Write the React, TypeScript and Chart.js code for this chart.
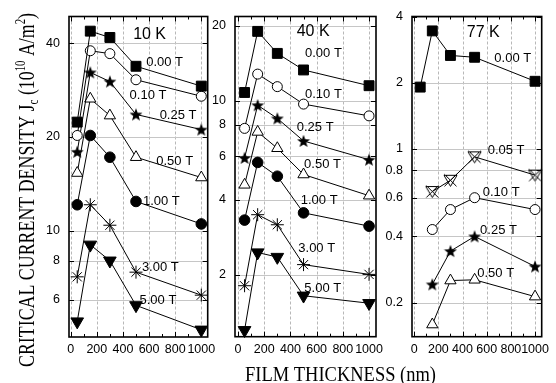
import React, { useEffect, useRef } from 'react';
import { Chart, registerables } from 'chart.js';

Chart.register(...registerables);

// ---------------- data ----------------
const thicknessNm = [50, 150, 300, 500, 1000];
const thicknessNm77K = [150, 300, 500, 1000];
const xTickValues = [0, 200, 400, 600, 800, 1000];

// 10 K
const jc10K_000T = [22.3, 43.7, 41.7, 33.7, 29.1];
const jc10K_010T = [20.2, 37.8, 37.0, 30.5, 27.0];
const jc10K_025T = [17.9, 32.2, 30.1, 23.6, 21.1];
const jc10K_050T = [15.3, 26.5, 23.4, 17.2, 14.8];
const jc10K_100T = [12.1, 20.2, 17.2, 12.4, 10.5];
const jc10K_300T = [7.1, 12.1, 10.4, 7.35, 6.2];
const jc10K_500T = [5.1, 9.0, 8.0, 5.75, 4.8];
const yTicks10K = [6, 8, 10, 20, 40];

// 40 K
const jc40K_000T = [10.8, 19.0, 15.5, 13.3, 11.5];
const jc40K_010T = [7.75, 12.8, 11.4, 9.7, 8.7];
const jc40K_025T = [5.9, 9.6, 8.5, 6.9, 5.8];
const jc40K_050T = [4.6, 7.5, 6.45, 5.06, 4.16];
const jc40K_100T = [3.32, 5.66, 4.98, 3.55, 3.14];
const jc40K_300T = [1.81, 3.49, 3.18, 2.2, 2.01];
const jc40K_500T = [1.2, 2.46, 2.36, 1.65, 1.54];
const yTicks40K = [2, 4, 6, 8, 10, 20];

// 77 K
const jc77K_000T = [1.91, 3.44, 2.66, 2.61, 2.03];
const jc77K_005T = [0.64, 0.72, 0.92, 0.76];
const jc77K_010T = [0.43, 0.53, 0.6, 0.53];
const jc77K_025T = [0.242, 0.343, 0.4, 0.292];
const jc77K_050T = [0.159, 0.252, 0.254, 0.213];
const yTicks77K = [0.2, 0.4, 0.6, 0.8, 1, 2, 4];

const fieldNames = ['0.00 T', '0.05 T', '0.10 T', '0.25 T', '0.50 T', '1.00 T', '3.00 T', '5.00 T'];

// ---------------- styling helpers ----------------
const SANS = '"Liberation Sans", Arial, sans-serif';
const SERIF = '"Liberation Serif", "Times New Roman", serif';

function makeStar(): HTMLCanvasElement {
  const c = document.createElement('canvas');
  c.width = 14; c.height = 14;
  const ctx = c.getContext('2d')!;
  const cx = 7, cy = 7.6, R = 6.8, r = 2.8;
  ctx.beginPath();
  for (let i = 0; i < 10; i++) {
    const a = -Math.PI / 2 + (i * Math.PI) / 5;
    const rad = i % 2 === 0 ? R : r;
    ctx.lineTo(cx + rad * Math.cos(a), cy + rad * Math.sin(a));
  }
  ctx.closePath();
  ctx.fillStyle = '#000';
  ctx.fill();
  return c;
}

function makeXTri(): HTMLCanvasElement {
  const c = document.createElement('canvas');
  c.width = 15; c.height = 15;
  const ctx = c.getContext('2d')!;
  ctx.strokeStyle = '#000';
  ctx.lineWidth = 1;
  ctx.beginPath();
  ctx.moveTo(1, 2.5); ctx.lineTo(14, 2.5); ctx.lineTo(7.5, 13.5); ctx.closePath();
  ctx.stroke();
  ctx.beginPath();
  ctx.moveTo(1.5, 1.5); ctx.lineTo(13.5, 13.5);
  ctx.moveTo(13.5, 1.5); ctx.lineTo(1.5, 13.5);
  ctx.stroke();
  return c;
}

function markerProps(m: string, imgs: any): any {
  const base = { pointBorderColor: '#000', pointBorderWidth: 1 };
  switch (m) {
    case 'sq': return { ...base, pointStyle: 'rect', pointRadius: 7, pointBackgroundColor: '#000' };
    case 'co': return { ...base, pointStyle: 'circle', pointRadius: 5, pointBackgroundColor: '#fff' };
    case 'star': return { ...base, pointStyle: imgs.star, pointRadius: 7 };
    case 'to': return { ...base, pointStyle: 'triangle', pointRadius: 6.5, pointBackgroundColor: '#fff' };
    case 'cf': return { ...base, pointStyle: 'circle', pointRadius: 5.3, pointBackgroundColor: '#000' };
    case 'ast': return { ...base, pointStyle: 'star', pointRadius: 6.5, pointBackgroundColor: '#000' };
    case 'td': return { ...base, pointStyle: 'triangle', pointRotation: 180, pointRadius: 7.3, pointBackgroundColor: '#000' };
    case 'xt': return { ...base, pointStyle: imgs.xtri, pointRadius: 7 };
  }
  return base;
}

type Series = { name: string; marker: string; xs: number[]; ys: number[] };
type Note = { text: string; x: number; y: number; size: number };
type PanelDef = {
  series: Series[];
  notes: Note[];
  yTicks: number[];
  yMin: number; yMax: number; xMin: number; xMax: number;
  area: { left: number; top: number; right: number; bottom: number };
  yTitle?: boolean; xTitle?: boolean;
};

const panels: PanelDef[] = [
  {
    series: [
      { name: fieldNames[0], marker: 'sq', xs: thicknessNm, ys: jc10K_000T },
      { name: fieldNames[2], marker: 'co', xs: thicknessNm, ys: jc10K_010T },
      { name: fieldNames[3], marker: 'star', xs: thicknessNm, ys: jc10K_025T },
      { name: fieldNames[4], marker: 'to', xs: thicknessNm, ys: jc10K_050T },
      { name: fieldNames[5], marker: 'cf', xs: thicknessNm, ys: jc10K_100T },
      { name: fieldNames[6], marker: 'ast', xs: thicknessNm, ys: jc10K_300T },
      { name: fieldNames[7], marker: 'td', xs: thicknessNm, ys: jc10K_500T },
    ],
    notes: [
      { text: '10 K', x: 478, y: 42.5, size: 16 },
      { text: fieldNames[0], x: 578, y: 34.7, size: 13 },
      { text: fieldNames[2], x: 451, y: 27.1, size: 13 },
      { text: fieldNames[3], x: 681, y: 23.5, size: 13 },
      { text: fieldNames[4], x: 655, y: 16.7, size: 13 },
      { text: fieldNames[5], x: 553, y: 12.4, size: 13 },
      { text: fieldNames[6], x: 545, y: 7.63, size: 13 },
      { text: fieldNames[7], x: 527, y: 5.95, size: 13 },
    ],
    yTicks: yTicks10K,
    yMin: 4.55, yMax: 48.7, xMin: -13, xMax: 1049,
    area: { left: 69, top: 15, right: 207.7, bottom: 337 },
    yTitle: true,
  },
  {
    series: [
      { name: fieldNames[0], marker: 'sq', xs: thicknessNm, ys: jc40K_000T },
      { name: fieldNames[2], marker: 'co', xs: thicknessNm, ys: jc40K_010T },
      { name: fieldNames[3], marker: 'star', xs: thicknessNm, ys: jc40K_025T },
      { name: fieldNames[4], marker: 'to', xs: thicknessNm, ys: jc40K_050T },
      { name: fieldNames[5], marker: 'cf', xs: thicknessNm, ys: jc40K_100T },
      { name: fieldNames[6], marker: 'ast', xs: thicknessNm, ys: jc40K_300T },
      { name: fieldNames[7], marker: 'td', xs: thicknessNm, ys: jc40K_500T },
    ],
    notes: [
      { text: '40 K', x: 448, y: 19.0, size: 16 },
      { text: fieldNames[0], x: 511, y: 15.5, size: 13 },
      { text: fieldNames[2], x: 511, y: 10.6, size: 13 },
      { text: fieldNames[3], x: 448, y: 7.8, size: 13 },
      { text: fieldNames[4], x: 504, y: 5.58, size: 13 },
      { text: fieldNames[5], x: 479, y: 3.97, size: 13 },
      { text: fieldNames[6], x: 460, y: 2.56, size: 13 },
      { text: fieldNames[7], x: 506, y: 1.77, size: 13 },
    ],
    yTicks: yTicks40K,
    yMin: 1.13, yMax: 21.8, xMin: -23, xMax: 1053,
    area: { left: 235, top: 15.7, right: 376, bottom: 336.7 },
  },
  {
    series: [
      { name: fieldNames[0], marker: 'sq', xs: thicknessNm, ys: jc77K_000T },
      { name: fieldNames[1], marker: 'xt', xs: thicknessNm77K, ys: jc77K_005T },
      { name: fieldNames[2], marker: 'co', xs: thicknessNm77K, ys: jc77K_010T },
      { name: fieldNames[3], marker: 'star', xs: thicknessNm77K, ys: jc77K_025T },
      { name: fieldNames[4], marker: 'to', xs: thicknessNm77K, ys: jc77K_050T },
    ],
    notes: [
      { text: '77 K', x: 435, y: 3.37, size: 16 },
      { text: fieldNames[0], x: 663, y: 2.58, size: 13 },
      { text: fieldNames[1], x: 608, y: 0.98, size: 13 },
      { text: fieldNames[2], x: 567, y: 0.635, size: 13 },
      { text: fieldNames[3], x: 545, y: 0.424, size: 13 },
      { text: fieldNames[4], x: 522, y: 0.272, size: 13 },
    ],
    yTicks: yTicks77K,
    yMin: 0.14, yMax: 4, xMin: -18, xMax: 1055,
    area: { left: 412, top: 14, right: 541.7, bottom: 336.7 },
    xTitle: true,
  },
];

const W = 556;
const H = 383;
const Y_AXIS_W = 40;
const X_AXIS_H = 30;

function drawYTitle(ctx: CanvasRenderingContext2D) {
  const size = 23;
  const pieces = [
    { t: 'CRITICAL CURRENT DENSITY J', k: 1, dy: 0 },
    { t: 'c', k: 0.62, dy: 4 },
    { t: ' (10', k: 1, dy: 0 },
    { t: '10', k: 0.6, dy: -9 },
    { t: ' A/m', k: 1, dy: 0 },
    { t: '2', k: 0.6, dy: -9 },
    { t: ')', k: 1, dy: 0 },
  ];
  ctx.save();
  let total = 0;
  const widths = pieces.map((p) => {
    ctx.font = `${size * p.k}px ${SERIF}`;
    const w = ctx.measureText(p.t).width;
    total += w;
    return w;
  });
  const target = 354;
  const sx = target / total;
  ctx.translate(34, 190);
  ctx.rotate(-Math.PI / 2);
  ctx.scale(sx, 1);
  ctx.fillStyle = '#000';
  ctx.textBaseline = 'alphabetic';
  ctx.textAlign = 'left';
  let pos = -total / 2;
  pieces.forEach((p, i) => {
    ctx.font = `${size * p.k}px ${SERIF}`;
    ctx.fillText(p.t, pos, p.dy);
    pos += widths[i];
  });
  ctx.restore();
}

function drawXTitle(ctx: CanvasRenderingContext2D) {
  const text = 'FILM THICKNESS (nm)';
  ctx.save();
  ctx.font = `20px ${SERIF}`;
  const w = ctx.measureText(text).width;
  const sx = 191 / w;
  ctx.translate(340.5, 381);
  ctx.scale(sx, 1);
  ctx.fillStyle = '#000';
  ctx.textAlign = 'center';
  ctx.textBaseline = 'alphabetic';
  ctx.fillText(text, 0, 0);
  ctx.restore();
}

function buildConfig(p: PanelDef, imgs: any): any {
  const decor = {
    id: 'decor',
    beforeDatasetsDraw(chart: any) {
      const { ctx, chartArea: a, scales } = chart;
      const sx = scales.x, sy = scales.y;
      ctx.save();
      const line = (x1: number, y1: number, x2: number, y2: number) => {
        ctx.beginPath(); ctx.moveTo(x1, y1); ctx.lineTo(x2, y2); ctx.stroke();
      };
      // vertical dashed grid
      ctx.strokeStyle = '#b8b8b8';
      ctx.lineWidth = 1;
      ctx.setLineDash([3, 2]);
      xTickValues.forEach((v) => {
        const px = Math.round(sx.getPixelForValue(v)) + 0.5;
        line(px, a.top, px, a.bottom);
      });
      // horizontal grid
      ctx.setLineDash([]);
      ctx.strokeStyle = '#c6c6c6';
      p.yTicks.forEach((v) => {
        const py = Math.round(sy.getPixelForValue(v)) + 0.5;
        line(a.left, py, a.right, py);
      });
      // frame
      ctx.strokeStyle = '#000';
      ctx.lineWidth = 1.6;
      ctx.strokeRect(a.left, a.top, a.right - a.left, a.bottom - a.top);
      // inward ticks
      ctx.lineWidth = 1;
      for (let v = 0; v <= 1000; v += 100) {
        const px = Math.round(sx.getPixelForValue(v)) + 0.5;
        const len = v % 200 === 0 ? 5 : 3;
        line(px, a.bottom, px, a.bottom - len);
        line(px, a.top, px, a.top + len);
      }
      p.yTicks.forEach((v) => {
        const py = Math.round(sy.getPixelForValue(v)) + 0.5;
        line(a.left, py, a.left + 5, py);
        line(a.right, py, a.right - 5, py);
      });
      ctx.restore();
    },
    afterDatasetsDraw(chart: any) {
      const { ctx, scales } = chart;
      ctx.save();
      ctx.fillStyle = '#000';
      ctx.textAlign = 'left';
      ctx.textBaseline = 'middle';
      p.notes.forEach((n) => {
        ctx.font = `${n.size}px ${SANS}`;
        ctx.fillText(n.text, scales.x.getPixelForValue(n.x), scales.y.getPixelForValue(n.y));
      });
      ctx.restore();
    },
    afterDraw(chart: any) {
      if (p.yTitle) drawYTitle(chart.ctx);
      if (p.xTitle) drawXTitle(chart.ctx);
    },
  };

  return {
    type: 'line',
    data: {
      datasets: p.series.map((s) => ({
        label: s.name,
        data: s.xs.map((x, i) => ({ x, y: s.ys[i] })),
        borderColor: '#000',
        borderWidth: 1,
        fill: false,
        tension: 0,
        clip: false,
        ...markerProps(s.marker, imgs),
      })),
    },
    options: {
      responsive: false,
      animation: false,
      events: [],
      devicePixelRatio: 1,
      layout: {
        padding: {
          left: p.area.left - Y_AXIS_W,
          top: p.area.top,
          right: W - p.area.right,
          bottom: H - p.area.bottom - X_AXIS_H,
        },
      },
      plugins: { legend: { display: false }, tooltip: { enabled: false }, title: { display: false } },
      scales: {
        x: {
          type: 'linear',
          min: p.xMin,
          max: p.xMax,
          afterBuildTicks: (s: any) => { s.ticks = xTickValues.map((v) => ({ value: v })); },
          afterFit: (s: any) => { s.height = X_AXIS_H; },
          ticks: {
            font: { family: SANS, size: 12.5 },
            color: '#000',
            padding: 5,
            maxRotation: 0,
            minRotation: 0,
            autoSkip: false,
            callback: (v: any) => String(v),
          },
          grid: { display: false, drawTicks: false },
          border: { display: false },
        },
        y: {
          type: 'logarithmic',
          min: p.yMin,
          max: p.yMax,
          afterBuildTicks: (s: any) => { s.ticks = p.yTicks.map((v) => ({ value: v })); },
          afterFit: (s: any) => { s.width = Y_AXIS_W; },
          ticks: {
            font: { family: SANS, size: 12.5 },
            color: '#000',
            padding: 9,
            autoSkip: false,
            callback: (v: any) => String(v),
          },
          grid: { display: false, drawTicks: false },
          border: { display: false },
        },
      },
    },
    plugins: [decor],
  };
}

function PanelChart({ def }: { def: PanelDef }) {
  const ref = useRef<HTMLCanvasElement>(null);
  useEffect(() => {
    const imgs = { star: makeStar(), xtri: makeXTri() };
    const chart = new Chart(ref.current!, buildConfig(def, imgs));
    return () => chart.destroy();
  }, [def]);
  return (
    <canvas
      ref={ref}
      width={W}
      height={H}
      style={{ position: 'absolute', left: 0, top: 0, width: W, height: H }}
    />
  );
}

export default function App() {
  return (
    <div style={{ position: 'fixed', left: 0, top: 0, width: W, height: H, background: '#fff', overflow: 'hidden' }}>
      {panels.map((p, i) => (
        <PanelChart key={i} def={p} />
      ))}
    </div>
  );
}
